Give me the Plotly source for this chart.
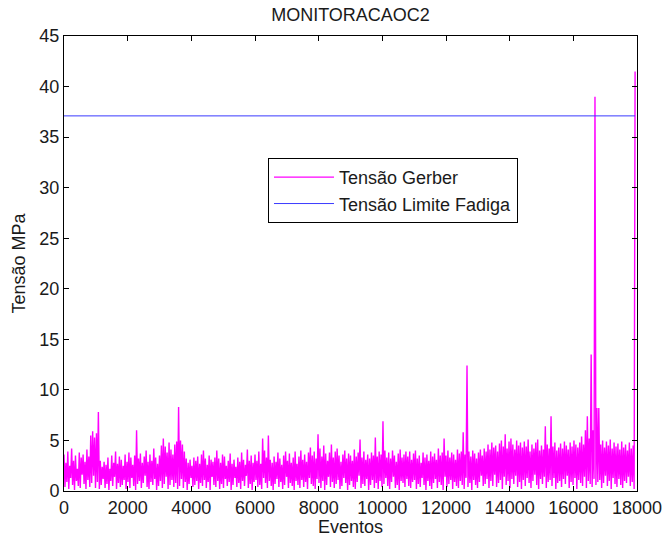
import plotly.graph_objects as go

STEP = 60  # events between successive peaks

# Peak values of "Tensão Gerber" (one per 60 events)
peaks = [
    3.6, 2.8, 3.9, 2.5, 4.2, 3.0, 3.5, 2.2, 3.8, 3.3,
    3.6, 2.9, 4.1, 3.4, 5.5, 5.9, 5.3, 5.7, 7.8, 3.0,
    2.4, 2.9, 2.6, 3.3, 2.2, 3.5, 2.8, 3.9, 2.7, 3.4,
    3.1, 2.5, 3.6, 2.9, 3.8, 3.3, 2.6, 3.5, 6.0, 3.2,
    3.7, 2.8, 3.4, 4.0, 2.9, 3.6, 3.0, 4.2, 3.3, 2.7,
    3.5, 4.5, 5.2, 4.4, 3.8, 4.8, 4.1, 3.6, 4.6, 4.9,
    8.3, 5.0, 4.6, 3.9, 3.2, 2.8, 3.1, 2.5, 3.3, 3.0,
    3.4, 2.7, 3.6, 4.0, 3.2, 2.6, 3.5, 3.1, 2.9, 3.3,
    4.0, 3.2, 2.8, 3.6, 3.4, 2.5, 3.0, 3.7, 2.7, 3.1,
    2.4, 3.3, 2.9, 3.8, 3.1, 2.6, 4.1, 3.0, 3.5, 2.8,
    3.6, 3.0, 3.9, 2.7, 5.2, 4.0, 3.3, 5.5, 3.1, 2.8,
    3.4, 2.9, 3.8, 3.2, 2.6, 3.5, 3.9, 3.0, 3.7, 2.8,
    3.3, 3.9, 2.7, 3.4, 4.0, 3.1, 3.6, 2.9, 3.8, 4.3,
    3.5, 3.9, 3.2, 5.6, 4.2, 3.4, 4.5, 3.7, 3.0, 3.8,
    4.6, 3.3, 3.9, 4.2, 3.5, 2.9, 3.6, 4.0, 3.2, 3.7,
    3.5, 3.0, 4.1, 3.4, 3.8, 5.1, 3.3, 3.9, 3.1, 3.6,
    3.2, 3.8, 3.5, 5.3, 3.4, 3.9, 3.6, 6.9, 4.0, 3.3,
    3.8, 3.2, 4.0, 3.5, 2.9, 3.7, 4.1, 3.3, 3.6, 3.9,
    3.4, 3.9, 3.1, 3.7, 4.0, 3.2, 3.5, 2.8, 3.8, 3.3,
    3.6, 3.0, 3.9, 3.4, 3.7, 3.1, 4.2, 3.5, 3.8, 5.2,
    3.5, 4.0, 3.3, 3.8, 3.6, 3.1, 4.1, 3.7, 3.9, 5.8,
    3.6, 12.4, 3.9, 3.4, 4.0, 3.7, 3.2, 3.8, 4.1, 3.5,
    4.2, 3.9, 4.6, 4.1, 4.8, 4.3, 4.5, 3.9, 4.7, 5.0,
    4.4, 5.6, 4.2, 4.9, 5.2, 4.6, 4.1, 5.0, 4.5, 4.8,
    4.3, 4.9, 4.4, 5.1, 3.9, 4.6, 4.2, 4.8, 5.1, 4.0,
    4.5, 4.1, 6.4, 4.6, 4.2, 7.4, 4.4, 4.8, 4.0, 4.3,
    4.7, 4.2, 4.9, 4.5, 4.1, 4.8, 4.4, 5.0, 4.6, 4.3,
    4.8, 5.4, 4.6, 6.0, 7.4, 5.2, 13.5, 6.0, 39.0, 8.2,
    8.2, 4.6, 5.0, 4.3, 4.9, 4.5, 5.1, 4.2, 4.8, 4.4,
    4.7, 4.1, 4.9, 4.3, 4.6, 4.0, 4.8, 4.2, 4.5, 41.5,
]

# Trough values between successive peaks
troughs = [
    0.4, 0.9, 0.2, 1.3, 0.6, 0.1, 1.0, 0.5, 0.3, 1.6,
    0.7, 0.2, 1.1, 0.4, 0.8, 1.5, 0.3, 0.9, 0.2, 0.6,
    1.2, 0.3, 0.7, 0.1, 1.0, 0.5, 1.4, 0.2, 0.8, 0.4,
    0.6, 1.1, 0.2, 0.9, 0.3, 1.3, 0.5, 0.1, 0.7, 1.0,
    0.3, 0.8, 1.5, 0.4, 0.2, 0.9, 0.6, 1.2, 0.1, 0.5,
    1.0, 0.3, 0.7, 1.4, 0.2, 0.6, 1.1, 0.4, 0.8, 0.2,
    0.5, 1.2, 0.3, 0.9, 0.1, 0.7, 1.3, 0.4, 0.6, 1.0,
    0.2, 0.8, 0.5, 1.1, 0.3, 0.9, 0.1, 1.4, 0.6, 0.4,
    1.0, 0.2, 0.7, 0.3, 1.2, 0.5, 0.9, 0.1, 0.6, 1.3,
    0.4, 0.8, 0.2, 1.0, 0.5, 1.5, 0.3, 0.7, 0.1, 0.9,
    1.1, 0.4, 0.6, 0.2, 1.3, 0.8, 0.3, 1.0, 0.5, 0.1,
    0.7, 1.2, 0.4, 0.9, 0.2, 0.6, 1.4, 0.3, 0.8, 0.5,
    0.1, 1.0, 0.6, 0.3, 1.1, 0.4, 0.9, 0.2, 1.3, 0.7,
    0.5, 0.2, 1.2, 0.8, 0.3, 1.0, 0.1, 0.6, 1.4, 0.4,
    0.9, 0.3, 0.7, 1.1, 0.2, 0.5, 1.3, 0.8, 0.1, 0.6,
    1.0, 0.4, 0.2, 0.9, 1.5, 0.3, 0.7, 0.5, 1.2, 0.1,
    0.6, 1.1, 0.3, 0.8, 0.2, 1.0, 0.4, 0.7, 1.3, 0.5,
    0.2, 0.9, 1.4, 0.3, 0.6, 0.1, 1.0, 0.8, 0.4, 1.2,
    0.5, 0.3, 0.9, 1.1, 0.2, 0.7, 0.4, 1.3, 0.6, 0.1,
    1.0, 0.5, 0.2, 0.8, 1.2, 0.3, 0.9, 0.6, 0.1, 1.4,
    0.4, 0.7, 1.1, 0.2, 0.9, 0.5, 0.3, 1.0, 0.6, 0.2,
    1.3, 0.4, 0.8, 0.1, 1.1, 0.6, 0.3, 0.9, 1.5, 0.5,
    0.7, 1.2, 0.3, 1.0, 0.5, 1.6, 0.4, 0.8, 1.1, 0.2,
    1.4, 0.6, 1.0, 0.3, 1.2, 0.7, 1.5, 0.4, 0.9, 0.2,
    1.1, 0.5, 1.3, 0.8, 0.3, 1.0, 1.6, 0.6, 0.2, 1.2,
    0.7, 1.4, 0.3, 0.9, 1.1, 0.5, 1.3, 0.2, 0.8, 1.0,
    0.4, 1.2, 0.7, 1.5, 0.3, 0.9, 0.6, 1.3, 0.2, 1.1,
    0.8, 0.5, 1.4, 0.3, 1.0, 0.7, 0.4, 1.2, 0.6, 0.9,
    1.1, 0.3, 0.8, 1.5, 0.5, 1.0, 0.2, 1.3, 0.7, 0.4,
    1.2, 0.6, 0.3, 1.0, 0.8, 1.4, 0.5, 0.9, 0.2, 1.1,
]

limite_fadiga = 37.1

x_ticks = [0, 2000, 4000, 6000, 8000, 10000, 12000, 14000, 16000, 18000]
x_tick_labels = ["0", "2000", "4000", "6000", "8000", "10000", "12000",
                 "14000", "16000", "18000"]
y_ticks = [0, 5, 10, 15, 20, 25, 30, 35, 40, 45]

# Interleave peaks and troughs into one event series
ev_x, ev_y = [], []
for i, p in enumerate(peaks):
    ev_x.append(i * STEP)
    ev_y.append(p)
    if i < len(peaks) - 1:
        ev_x.append(i * STEP + STEP // 2)
        ev_y.append(troughs[i])

FONT = "Liberation Sans, Arial, sans-serif"
TXT = "#1a1a1a"

fig = go.Figure()
fig.add_trace(go.Scatter(
    x=ev_x, y=ev_y, mode="lines", name="Tensão Gerber",
    line=dict(color="#FF00FF", width=1.4),
))
fig.add_trace(go.Scatter(
    x=[ev_x[0], ev_x[-1]], y=[limite_fadiga, limite_fadiga], mode="lines",
    name="Tensão Limite Fadiga", line=dict(color="#3a3aff", width=1),
))

axis_common = dict(
    showline=True, linecolor="black", linewidth=1, mirror="ticks",
    ticks="inside", ticklen=5, tickcolor="black", showgrid=False,
    zeroline=False, automargin=False,
    tickfont=dict(family=FONT, size=18, color=TXT),
)

fig.update_layout(
    width=667, height=537,
    margin=dict(l=64, r=30, t=36, b=46),
    paper_bgcolor="white", plot_bgcolor="white",
    title=dict(text="MONITORACAOC2", x=0.5, xanchor="center", xref="paper",
               y=0.972, yanchor="middle",
               font=dict(family=FONT, size=18, color=TXT)),
    xaxis=dict(range=[0, 18000], tickvals=x_ticks, ticktext=x_tick_labels,
               title=dict(text="Eventos", standoff=2,
                          font=dict(family=FONT, size=18, color=TXT)),
               **axis_common),
    yaxis=dict(range=[0, 45], tickvals=y_ticks,
               title=dict(text="Tensão MPa", standoff=9,
                          font=dict(family=FONT, size=18, color=TXT)),
               **axis_common),
    legend=dict(x=0.356, y=0.732, xanchor="left", yanchor="top",
                bgcolor="white", bordercolor="black", borderwidth=1,
                font=dict(family=FONT, size=18, color=TXT),
                tracegroupgap=0, itemwidth=60),
    showlegend=True,
)

fig.write_html("out.html", config={"displayModeBar": False})

# Remove the browser's default page margin so the figure fills the window
with open("out.html", "r", encoding="utf-8") as fh:
    html = fh.read()
html = html.replace("<head>", "<head><style>html,body{margin:0;padding:0;overflow:hidden;}</style>", 1)
with open("out.html", "w", encoding="utf-8") as fh:
    fh.write(html)
